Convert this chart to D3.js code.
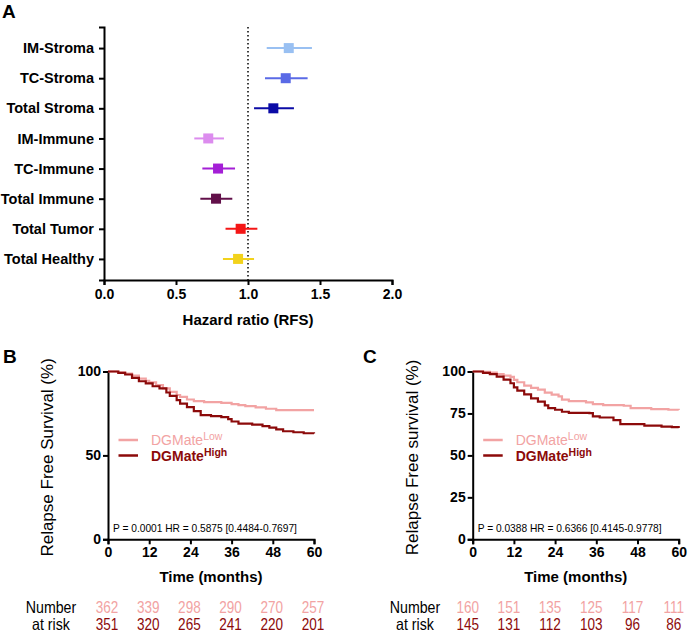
<!DOCTYPE html>
<html lang="en">
<head>
<meta charset="UTF-8">
<script src="https://cdn.jsdelivr.net/npm/d3@7"></script>
<style>
body { margin:0; background:#fff; }
svg { font-family: "Liberation Sans", Arial, sans-serif; }
.axis path, .axis line { stroke:#000; stroke-width:2px; }
.axis text { fill:#000; font-weight:bold; }
</style>
<title>Forest plot and KM curves</title>
</head>
<body>
<script>
// ---- panel A data
var groups = ["IM-Stroma", "TC-Stroma", "Total Stroma", "IM-Immune", "TC-Immune", "Total Immune", "Total Tumor", "Total Healthy"];
var hr     = [1.283, 1.262, 1.176, 0.724, 0.792, 0.778, 0.949, 0.931];
var hrLow  = [1.130, 1.118, 1.042, 0.627, 0.683, 0.669, 0.844, 0.826];
var hrHigh = [1.444, 1.414, 1.319, 0.833, 0.910, 0.891, 1.065, 1.042];
var groupColors = ["#99c0f2", "#5a6ae6", "#0b0ba6", "#dc8cee", "#a41fd6", "#62104a", "#f41616", "#f2d21c"];
var hrTicks = [0, 0.5, 1, 1.5, 2];

// ---- panel B data (months, % relapse free)
var bLow = [[0,100],[3,99.5],[5,98.8],[7,97.5],[9,95.8],[11,94.5],[12,93.5],[14,91.9],[16,90],[18,87.9],[20,86],[21,84.9],[23,83.3],[25,82.3],[28,81.8],[33,81.3],[36,80.6],[38,80],[40,79.4],[43,78.6],[46,77.8],[49,77],[60,77]];
var bHigh = [[0,100],[3,99.2],[5,98.2],[7,96.2],[9,94.2],[11,92.9],[13,91.2],[15,89.9],[17,87.5],[18,85.5],[20,83],[21,80.8],[23,78.8],[25,76.4],[27,74],[30,73.4],[33,72.8],[35,71.6],[36,70.2],[38,68.9],[42,68.3],[45,67.4],[47,66.6],[49,65.5],[51,64.4],[54,63.8],[57,63.2],[60,63.1]];
var bRiskLow  = [362, 339, 298, 290, 270, 257];
var bRiskHigh = [351, 320, 265, 241, 220, 201];

// ---- panel C data
var cLow = [[0,100],[3,99.8],[5,99.4],[7,98.4],[9,97.6],[11,96.8],[12,95],[13,93.6],[15,91.6],[17,90.2],[19,89.2],[21,87.4],[23,86.2],[25,85.2],[26,83.2],[28,82.4],[33,81.6],[35,80.6],[38,80],[44,79.6],[46,78.2],[52,77.6],[57,77.2],[60,77]];
var cHigh = [[0,100],[3,99.2],[5,98.4],[7,97],[9,95.2],[11,93],[12,90.5],[13,88.6],[15,86.4],[17,84],[19,82],[21,79.8],[22,78.2],[24,77.2],[26,76],[28,75.4],[34,75.2],[35,73.2],[37,72.6],[41,71],[43,68.6],[50,67.8],[55,67.2],[58,66.8],[60,66.4]];
var cRiskLow  = [160, 151, 135, 125, 117, 111];
var cRiskHigh = [145, 131, 112, 103, 96, 86];

var monthTicks = [0, 12, 24, 36, 48, 60];
var lowColor = "#f2a3a3", highColor = "#8c0a0a";

var svg = d3.select("body").append("svg")
    .attr("width", 691)
    .attr("height", 633);

// ================= Panel A =================
var x = d3.scaleLinear().domain([0, 2]).range([104, 392]);
var y = d3.scalePoint().domain(groups).range([27, 280]).padding(0.7);

svg.append("text").attr("x", 2).attr("y", 18)
    .style("font-size", "19px").style("font-weight", "bold").text("A");

svg.append("g").attr("class", "axis")
    .attr("transform", "translate(0,280)")
    .call(d3.axisBottom(x).tickValues(hrTicks).tickFormat(d3.format(".1f")).tickSizeOuter(0).tickSize(5).tickPadding(4))
    .selectAll("text").style("font-size", "14px");

svg.append("g").attr("class", "axis")
    .attr("transform", "translate(104,0)")
    .call(d3.axisLeft(y).tickSizeOuter(0).tickSize(5).tickPadding(5))
    .selectAll("text").style("font-size", "14.5px");

// dotted reference line at HR = 1
svg.append("line")
    .attr("x1", x(1)).attr("x2", x(1))
    .attr("y1", 27).attr("y2", 280)
    .attr("stroke", "#000").attr("stroke-width", 1.5)
    .attr("stroke-dasharray", "1.5,2.5");

var rows = svg.append("g").selectAll("g").data(groups).enter().append("g");
rows.append("line")
    .attr("x1", function(d, i) { return x(hrLow[i]); })
    .attr("x2", function(d, i) { return x(hrHigh[i]); })
    .attr("y1", function(d) { return y(d); })
    .attr("y2", function(d) { return y(d); })
    .attr("stroke", function(d, i) { return groupColors[i]; })
    .attr("stroke-width", 2);
rows.append("rect")
    .attr("x", function(d, i) { return x(hr[i]) - 5; })
    .attr("y", function(d) { return y(d) - 5; })
    .attr("width", 10).attr("height", 10)
    .attr("fill", function(d, i) { return groupColors[i]; });

svg.append("text").attr("x", x(1)).attr("y", 325)
    .attr("text-anchor", "middle")
    .style("font-size", "15px").style("font-weight", "bold")
    .text("Hazard ratio (RFS)");

// ================= KM panels =================
// squeeze text horizontally, the original uses a narrow face
function narrow(sel, f) {
    sel.each(function() {
        this.setAttribute("textLength", this.getComputedTextLength() * f);
        this.setAttribute("lengthAdjust", "spacingAndGlyphs");
    });
}

function kmPanel(opt) {
    var kx = d3.scaleLinear().domain([0, 60]).range([opt.left, opt.left + 206]);
    var ky = d3.scaleLinear().domain([0, 100]).range([539.3, 371.5]);

    svg.append("text").attr("x", opt.letterX).attr("y", 363)
        .style("font-size", "19px").style("font-weight", "bold").text(opt.letter);

    svg.append("g").attr("class", "axis")
        .attr("transform", "translate(0,539.3)")
        .call(d3.axisBottom(kx).tickValues(monthTicks).tickSizeOuter(0).tickSize(5).tickPadding(3))
        .selectAll("text").style("font-size", "14px");

    svg.append("g").attr("class", "axis")
        .attr("transform", "translate(" + opt.left + ",0)")
        .call(d3.axisLeft(ky).tickValues(opt.yTicks).tickSizeOuter(0).tickSize(5).tickPadding(2))
        .selectAll("text").style("font-size", "14px");

    svg.append("text")
        .attr("transform", "translate(" + (opt.left - 55) + "," + (ky(50) + 2) + ") rotate(-90)")
        .attr("text-anchor", "middle")
        .style("font-size", "17px")
        .text(opt.yTitle);

    svg.append("text").attr("x", kx(30)).attr("y", 582)
        .attr("text-anchor", "middle")
        .style("font-size", "15px").style("font-weight", "bold")
        .text("Time (months)");

    var line = d3.line()
        .x(function(d) { return kx(d[0]); })
        .y(function(d) { return ky(d[1]); })
        .curve(d3.curveStepAfter);

    svg.append("path").datum(opt.low).attr("d", line)
        .attr("fill", "none").attr("stroke", lowColor).attr("stroke-width", 2.2);
    svg.append("path").datum(opt.high).attr("d", line)
        .attr("fill", "none").attr("stroke", highColor).attr("stroke-width", 2.2);

    // legend
    var leg = [{name: "Low", c: lowColor, w: "normal", y: 440}, {name: "High", c: highColor, w: "bold", y: 455.5}];
    leg.forEach(function(l) {
        svg.append("line")
            .attr("x1", opt.left + 10.5).attr("x2", opt.left + 30)
            .attr("y1", l.y).attr("y2", l.y)
            .attr("stroke", l.c).attr("stroke-width", 2.5);
        var t = svg.append("text").attr("x", opt.left + 43).attr("y", l.y + 5)
            .style("font-size", "14px").style("font-weight", l.w).attr("fill", l.c);
        t.append("tspan").text("DGMate");
        t.append("tspan").attr("dy", -5).style("font-size", "10.5px").text(l.name);
    });

    svg.append("text").attr("x", opt.left + 5).attr("y", 532)
        .style("font-size", "10.2px")
        .text(opt.stat);

    // numbers at risk
    var lab = svg.append("g").style("font-size", "16.5px").attr("text-anchor", "middle");
    lab.append("text").attr("x", opt.labelX).attr("y", 613).text("Number");
    lab.append("text").attr("x", opt.labelX).attr("y", 630).text("at risk");
    narrow(lab.selectAll("text"), 0.86);
    [[opt.riskLow, lowColor, 613], [opt.riskHigh, highColor, 630]].forEach(function(r) {
        var t = svg.append("g").selectAll("text").data(r[0]).enter().append("text")
            .attr("x", function(d, i) { return kx(monthTicks[i]) - opt.riskShift; })
            .attr("y", r[2])
            .attr("text-anchor", "middle")
            .attr("fill", r[1])
            .style("font-size", "16.5px")
            .text(function(d) { return d; });
        narrow(t, 0.82);
    });
}

kmPanel({letter: "B", letterX: 3, left: 108, labelX: 51, riskShift: 1, yTicks: [0, 50, 100], yTitle: "Relapse Free Survival (%)",
    low: bLow, high: bHigh, riskLow: bRiskLow, riskHigh: bRiskHigh,
    stat: "P = 0.0001 HR = 0.5875 [0.4484-0.7697]"});
kmPanel({letter: "C", letterX: 363, left: 472.7, labelX: 415, riskShift: 5, yTicks: [0, 25, 50, 75, 100], yTitle: "Relapse Free survival (%)",
    low: cLow, high: cHigh, riskLow: cRiskLow, riskHigh: cRiskHigh,
    stat: "P = 0.0388 HR = 0.6366 [0.4145-0.9778]"});
</script>
</body>
</html>
